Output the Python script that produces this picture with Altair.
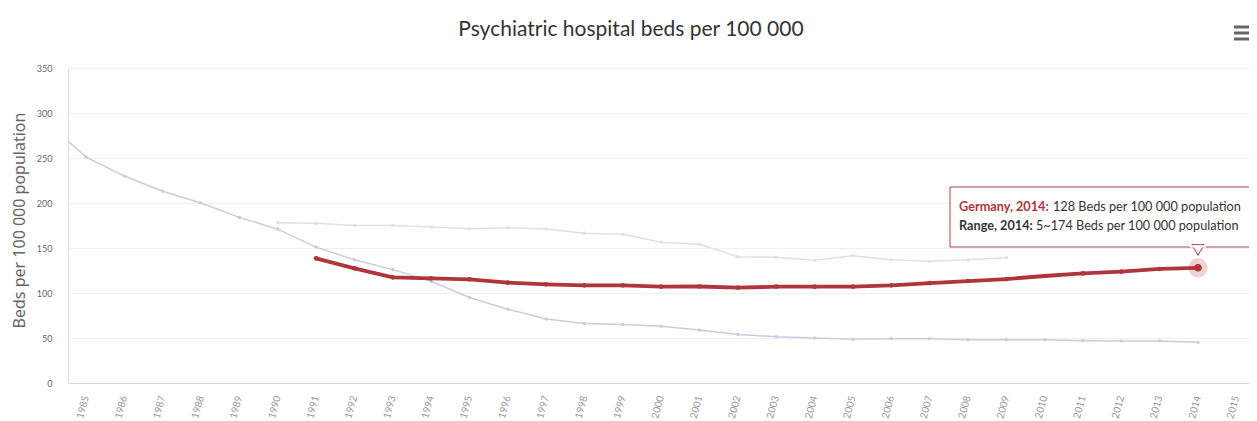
import altair as alt
import pandas as pd

# ---- data ----
years_low = list(range(1984, 2015))
low_vals = [289, 251, 230, 213, 200, 184, 171, 151, 137, 126, 113, 95, 82, 71, 66,
            65, 63, 59, 54, 51.5, 50, 48.5, 49.3, 49.3, 48.1, 48, 48, 47, 46.7, 46.7, 45.2]

years_high = list(range(1990, 2010))
high_vals = [178, 177.4, 175.1, 175.1, 173.3, 171.5, 172.6, 171.1, 166.3, 165.2,
             156.3, 154.1, 140.4, 139.6, 136.3, 141.5, 137, 135.2, 137, 139.3]

years_de = list(range(1991, 2015))
de_vals = [138.5, 127.4, 117.4, 116.3, 115.2, 111.5, 109.6, 108.5, 108.5, 107, 107.2, 106,
           107, 107, 107, 108.5, 111, 113.3, 115.5, 118.9, 121.8, 123.7, 126.7, 128]

x_ticks = list(range(1985, 2016))
y_ticks = [0, 50, 100, 150, 200, 250, 300, 350]

FONT = "Lato"
RED = "#b0353a"

low = pd.DataFrame({"year": years_low, "value": low_vals})
high = pd.DataFrame({"year": years_high, "value": high_vals})
de = pd.DataFrame({"year": years_de, "value": de_vals})
last = de.tail(1)
xt = pd.DataFrame({"year": x_ticks, "label": [str(v) for v in x_ticks]})

xscale = alt.Scale(domain=[1984.53, 2015.33], nice=False, zero=False)
yscale = alt.Scale(domain=[0, 350], nice=False)

x_enc = alt.X("year:Q", scale=xscale, title=None,
              axis=alt.Axis(values=x_ticks, labels=False, ticks=False, tickSize=0,
                            domainColor="#ccd6eb", grid=False))
y_enc = alt.Y("value:Q", scale=yscale,
              axis=alt.Axis(values=y_ticks, labelFontSize=9, labelColor="#666", labelFont=FONT,
                            ticks=False, tickSize=0, domain=False, labelPadding=16,
                            grid=True, gridColor="#f0f0f0",
                            title="Beds per 100 000 population", titleFont="Noto Sans",
                            titleFontSize=16, titleColor="#666", titleFontWeight="normal",
                            titlePadding=9, titleY=152))


def series(df, color, width, msize):
    base = alt.Chart(df)
    line = base.mark_line(color=color, strokeWidth=width, clip=True).encode(x=x_enc, y=y_enc)
    pts = base.mark_circle(color=color, size=msize, opacity=1, clip=True).encode(x="year:Q", y="value:Q")
    return line + pts


low_layer = series(low, "#c9cce0", 1.5, 12)
high_layer = series(high, "#dfe0e7", 1.5, 12)
de_layer = series(de, RED, 3.8, 22)

halo = alt.Chart(last).mark_circle(color=RED, size=380, opacity=0.22).encode(x="year:Q", y="value:Q")
dot = alt.Chart(last).mark_circle(color=RED, size=55, opacity=1).encode(x="year:Q", y="value:Q")

# x-axis labels, rotated
xlabels = alt.Chart(xt).mark_text(angle=285, align="right", baseline="middle", font=FONT,
                                  fontSize=10, color="#999", clip=False).encode(
    x=alt.X("year:Q", scale=xscale), y=alt.value(328), text="label:N")

# tooltip box
ann = pd.DataFrame({"k": [0]})
box = alt.Chart(ann).mark_rect(fill="white", stroke=RED, strokeWidth=1, opacity=0.95, clip=False).encode(
    x=alt.value(882), x2=alt.value(1200), y=alt.value(119), y2=alt.value(179))
pointer = alt.Chart(ann).mark_point(shape="triangle-down", filled=True, fill="white", stroke=RED,
                                     strokeWidth=1, size=150, opacity=1, clip=False).encode(
    x=alt.value(1130), y=alt.value(182))
pointer_cover = alt.Chart(ann).mark_rule(color="white", strokeWidth=2).encode(
    x=alt.value(1122), x2=alt.value(1138), y=alt.value(178.5))

def txt(s, x, y, color, weight):
    return alt.Chart(ann).mark_text(text=s, font=FONT, fontSize=12.7, color=color, fontWeight=weight,
                                    align="left", baseline="alphabetic", clip=False).encode(
        x=alt.value(x), y=alt.value(y))

t1 = txt("Germany, 2014:", 891, 143, RED, "bold")
t2 = txt("128 Beds per 100 000 population", 985, 143, "#333", "normal")
t3 = txt("Range, 2014:", 891, 162, "#333", "bold")
t4 = txt("5~174 Beds per 100 000 population", 968, 162, "#333", "normal")

# chart title
title = alt.Chart(ann).mark_text(text="Psychiatric hospital beds per 100 000", font=FONT, fontSize=21,
                                 color="#333", align="center", baseline="middle", clip=False).encode(
    x=alt.value(563), y=alt.value(-38))

# hamburger menu icon
menu = alt.layer(*[
    alt.Chart(ann).mark_rule(color="#666", strokeWidth=3).encode(
        x=alt.value(1166), x2=alt.value(1181), y=alt.value(yy))
    for yy in [-41, -35, -29]
])

chart = alt.layer(
    high_layer, low_layer, de_layer, halo, dot, xlabels, box, pointer, pointer_cover,
    t1, t2, t3, t4, title, menu
).properties(
    width=1181, height=315,
    padding={"left": 60, "top": 60, "right": 0, "bottom": 38},
    autosize=alt.AutoSizeParams(type="none"),
).configure_view(stroke=None).configure(background="white")

chart.save("out.html", embed_options={"renderer": "svg", "actions": False})
